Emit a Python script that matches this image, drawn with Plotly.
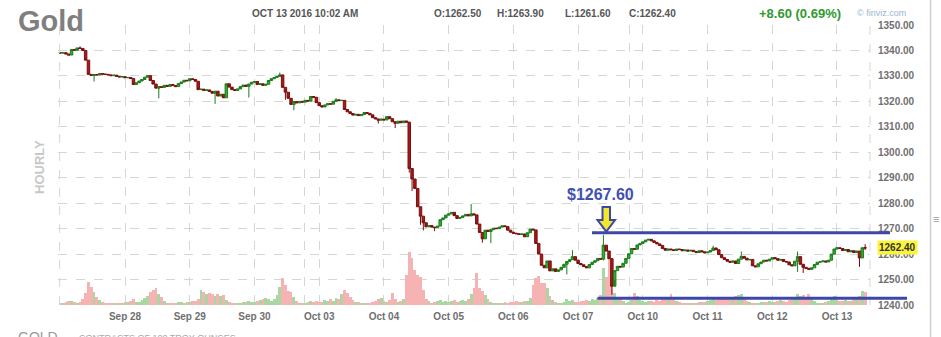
import plotly.graph_objects as go

# ---------------- data (hourly bars) ----------------
first_open = 1339.2

close_sep27 = [1339.0, 1339.1, 1338.6, 1338.2, 1340.4, 1340.1, 1341.0, 1340.8, 1340.0, 1336.2,
               1330.6, 1330.2, 1330.5, 1330.4, 1330.9, 1330.7, 1330.6]
close_sep28 = [1330.4, 1330.1, 1330.3, 1329.8, 1329.6, 1329.7, 1329.3, 1329.4, 1329.0, 1326.6,
               1327.3, 1328.0, 1328.6, 1329.5, 1330.1, 1328.2, 1326.8, 1325.2, 1325.8, 1325.5,
               1326.3, 1325.9, 1326.6]
close_sep29 = [1326.2, 1325.8, 1327.0, 1327.6, 1328.3, 1328.1, 1328.9, 1328.6, 1327.9, 1324.6,
               1324.8, 1324.3, 1324.5, 1323.9, 1323.2, 1324.0, 1322.1, 1322.8, 1321.4, 1326.9,
               1325.6, 1324.6, 1324.3]
close_sep30 = [1324.9, 1325.8, 1326.4, 1325.9, 1326.8, 1327.5, 1327.8, 1326.6, 1326.9, 1326.3,
               1326.7, 1328.2, 1328.9, 1329.4, 1329.8, 1330.4, 1325.5, 1323.6, 1321.2, 1318.8,
               1319.9, 1319.4, 1320.0]
close_oct03 = [1319.7, 1320.4, 1320.1, 1321.9, 1321.6, 1319.5, 1318.3, 1317.8, 1318.6, 1319.1,
               1318.9, 1320.0, 1320.6, 1320.3, 1320.4, 1316.8, 1315.9, 1315.2, 1314.6, 1314.9,
               1314.4, 1314.8, 1315.6]
close_oct04 = [1315.3, 1314.7, 1313.6, 1313.1, 1312.6, 1313.0, 1312.7, 1314.0, 1313.2, 1312.0,
               1311.4, 1312.2, 1311.6, 1312.3, 1311.8, 1293.6, 1289.5, 1285.8, 1278.6, 1274.9,
               1272.3, 1270.7, 1271.2]
close_oct05 = [1270.6, 1270.4, 1271.0, 1273.5, 1274.2, 1275.3, 1275.8, 1276.4, 1275.1, 1274.0,
               1274.4, 1275.0, 1275.6, 1275.0, 1275.8, 1275.4, 1271.8, 1268.5, 1266.0, 1269.4,
               1268.9, 1269.6, 1270.2]
close_oct06 = [1270.0, 1270.6, 1271.1, 1270.8, 1269.4, 1268.6, 1268.2, 1268.0, 1267.7, 1267.9,
               1266.8, 1268.4, 1269.8, 1269.5, 1264.2, 1260.0, 1255.6, 1254.6, 1257.3, 1253.4,
               1254.2, 1253.2, 1253.8]
close_oct07 = [1254.8, 1256.0, 1257.1, 1257.8, 1259.0, 1257.6, 1256.3, 1255.8, 1255.1, 1254.6,
               1255.9, 1256.8, 1257.4, 1258.3, 1258.0, 1263.5, 1261.2, 1258.2, 1247.4, 1253.5,
               1255.2, 1254.9, 1256.4]
close_oct10 = [1258.3, 1260.1, 1262.2, 1261.9, 1263.6, 1264.2, 1264.8, 1265.5, 1265.8, 1265.2,
               1264.6, 1264.0, 1263.4, 1262.2, 1261.5, 1262.0, 1261.7, 1261.4, 1262.0, 1261.8,
               1261.3, 1261.6, 1261.2]
close_oct11 = [1261.5, 1261.0, 1260.6, 1261.3, 1260.9, 1260.5, 1260.8, 1261.4, 1262.4, 1261.7,
               1259.8, 1258.6, 1257.9, 1257.2, 1256.8, 1257.3, 1256.3, 1258.0, 1259.1, 1258.4,
               1257.7, 1257.9, 1255.4]
close_oct12 = [1255.0, 1256.2, 1256.9, 1257.6, 1257.3, 1258.0, 1258.6, 1258.2, 1257.6, 1257.9,
               1257.1, 1256.9, 1255.8, 1255.4, 1257.2, 1259.0, 1256.0, 1254.8, 1254.4, 1254.0,
               1254.6, 1255.9, 1256.8]
close_oct13 = [1257.0, 1257.3, 1256.9, 1257.6, 1260.0, 1262.0, 1262.5, 1262.2, 1261.4, 1261.8,
               1260.9, 1261.3, 1260.6, 1261.2, 1258.5, 1262.5, 1262.4]

# visible wick extremes (bar index -> price)
wick_high = {7: 1341.6, 78: 1331.3, 98: 1321.3, 124: 1312.0, 146: 1279.7, 182: 1261.5,
             193: 1267.6, 196: 1258.5, 232: 1263.3, 242: 1261.0, 262: 1261.0, 286: 1263.9}
wick_low = {12: 1327.8, 35: 1321.2, 55: 1319.0, 67: 1321.5, 80: 1320.6, 83: 1316.5,
            113: 1311.3, 119: 1309.5, 124: 1292.0, 125: 1284.8, 128: 1271.5, 129: 1269.3,
            133: 1269.0, 150: 1264.5, 153: 1264.3, 180: 1252.0, 193: 1257.5, 196: 1244.0,
            197: 1250.0, 262: 1253.0, 264: 1252.6, 284: 1255.0, 286: 1261.6}

vol_sep27 = [700, 900, 1400, 1800, 1600, 1200, 1000, 1400, 2600, 5000, 9200, 7200, 5400, 3200,
             2200, 1400, 1000]
vol_sep28 = [600, 500, 700, 900, 1000, 800, 1200, 1100, 1600, 2400, 1400, 1200, 2000, 2800,
             3600, 5200, 6000, 6800, 4400, 3200, 1600, 1000, 700]
vol_sep29 = [600, 900, 1300, 1200, 1000, 1400, 1100, 1600, 1800, 2600, 6000, 5200, 4400, 4800,
             4400, 3600, 4400, 3600, 4000, 2000, 1400, 900, 600]
vol_sep30 = [700, 900, 1300, 1100, 1800, 1400, 1200, 1600, 2000, 2600, 3000, 2400, 1600, 2400,
             4200, 7200, 10800, 8000, 5600, 5200, 3400, 1600, 800]
vol_oct03 = [600, 900, 1200, 1600, 1200, 1800, 1400, 1200, 2000, 1600, 2400, 1800, 2800, 2400,
             4400, 6000, 4800, 3200, 2000, 1400, 1200, 1000, 800]
vol_oct04 = [600, 800, 1200, 1600, 2400, 2800, 1600, 1400, 2000, 4800, 2400, 1200, 1600, 2400,
             12000, 21200, 18800, 14000, 12000, 11200, 6000, 2400, 1600]
vol_oct05 = [800, 1200, 1600, 2000, 1400, 1800, 1200, 1600, 2000, 1400, 1800, 2000, 1600, 2400,
             4400, 6800, 12800, 6800, 5600, 4000, 2400, 1400, 1000]
vol_oct06 = [600, 800, 1000, 1200, 1000, 1400, 1200, 1600, 1200, 1400, 1800, 1600, 3000, 8000,
             10800, 11600, 8800, 8800, 6800, 3600, 2000, 1400, 1000]
vol_oct07 = [800, 1200, 2400, 1600, 2000, 1400, 1200, 1600, 1800, 2000, 1600, 2400, 2000, 2800,
             4000, 14800, 11200, 18800, 12000, 4800, 2800, 2400, 1600]
vol_oct10 = [800, 1200, 2000, 4800, 3600, 2000, 1600, 1400, 1800, 1600, 1200, 2000, 1600, 2400,
             2800, 3200, 4400, 2800, 1600, 1200, 1000, 800, 600]
vol_oct11 = [600, 800, 1000, 1200, 1400, 1200, 1600, 2000, 2400, 2000, 2400, 2800, 2400, 2800,
             3200, 2800, 3600, 4000, 4400, 2800, 1600, 1200, 800]
vol_oct12 = [600, 800, 1200, 1400, 1200, 1600, 1400, 1200, 1800, 2000, 1600, 1400, 2000, 2400,
             2800, 4400, 3600, 4000, 3200, 4400, 2400, 1600, 1000]
vol_oct13 = [600, 800, 1200, 1600, 2400, 3600, 2000, 1600, 1800, 2000, 1600, 1800, 2400, 2800,
             3600, 5600, 5200]

day_labels = ["Sep 28", "Sep 29", "Sep 30", "Oct 03", "Oct 04", "Oct 05", "Oct 06", "Oct 07",
              "Oct 10", "Oct 11", "Oct 12", "Oct 13"]
day_label_bar = [23, 46, 69, 92, 115, 138, 161, 184, 207, 230, 253, 276]
weekend_bar = [86.8, 202.3]

price_ticks = [1240, 1250, 1260, 1270, 1280, 1290, 1300, 1310, 1320, 1330, 1340, 1350]
last_price = 1262.40
resistance = 1268.4
support = 1242.7
high_label = "$1267.60"

# ---------------- assemble ----------------
closes = (close_sep27 + close_sep28 + close_sep29 + close_sep30 + close_oct03 + close_oct04 +
          close_oct05 + close_oct06 + close_oct07 + close_oct10 + close_oct11 + close_oct12 +
          close_oct13)
volumes = (vol_sep27 + vol_sep28 + vol_sep29 + vol_sep30 + vol_oct03 + vol_oct04 + vol_oct05 +
           vol_oct06 + vol_oct07 + vol_oct10 + vol_oct11 + vol_oct12 + vol_oct13)
opens = [first_open] + closes[:-1]
bars = list(range(len(closes)))
highs = [wick_high.get(i, max(o, c)) for i, o, c in zip(bars, opens, closes)]
lows = [wick_low.get(i, min(o, c)) for i, o, c in zip(bars, opens, closes)]
vol_colors = ["#a9d6a1" if c >= o else "#f6b3b3" for o, c in zip(opens, closes)]

W, H = 941, 337
L, R, T, B = 58, 71, 25, 32
PW, PH = W - L - R, H - T - B


def px(x):
    return (x - L) / PW


def py(y):
    return (H - B - y) / PH


FONT = "Arial, 'Liberation Sans', sans-serif"
BLUE = "#3d47a6"

fig = go.Figure()
fig.add_trace(go.Bar(x=bars, y=volumes, marker=dict(color=vol_colors, line=dict(width=0)),
                     width=1.0, yaxis="y", hoverinfo="skip"))
fig.add_trace(go.Candlestick(
    x=bars, open=opens, high=highs, low=lows, close=closes, yaxis="y2",
    increasing=dict(line=dict(color="#1c7d1c", width=1), fillcolor="#2fae2f"),
    decreasing=dict(line=dict(color="#7a0e0e", width=1), fillcolor="#a51a1a"),
    whiskerwidth=0, hoverinfo="skip"))

grid = "#d6d6d6"
fig.update_layout(
    width=W, height=H, margin=dict(l=L, r=R, t=T, b=B, pad=0),
    paper_bgcolor="white", plot_bgcolor="white", showlegend=False,
    font=dict(family=FONT),
    bargap=0, boxgap=0.12, boxgroupgap=0,
    xaxis=dict(range=[-0.82, 287.73], tickmode="array",
               tickvals=day_label_bar + weekend_bar,
               ticktext=day_labels + ["", ""],
               showgrid=True, gridcolor=grid, griddash="dash", gridwidth=1,
               zeroline=False, showline=False, ticks="outside", ticklen=2,
               tickcolor="rgba(0,0,0,0)",
               tickfont=dict(size=10, color="#6f6f6f", weight="bold"),
               rangeslider=dict(visible=False), fixedrange=True),
    yaxis=dict(range=[0, 112000], visible=False, fixedrange=True),
    yaxis2=dict(overlaying="y", side="right", range=[1240, 1350], tickmode="array",
                tickvals=price_ticks, ticktext=[f"{v:.2f}" for v in price_ticks],
                showgrid=True, gridcolor=grid, griddash="dash", gridwidth=1,
                zeroline=False, showline=False, ticks="", ticklabelstandoff=7,
                tickfont=dict(size=10, color="#6f6f6f", weight="bold"), fixedrange=True),
)

shapes = [
    dict(type="line", xref="paper", yref="paper", x0=0.002, x1=0.002, y0=0, y1=1,
         line=dict(color=grid, width=1, dash="dash")),
    dict(type="line", xref="paper", yref="paper", x0=1, x1=1, y0=0, y1=1,
         line=dict(color=grid, width=1, dash="dash")),
    dict(type="line", xref="paper", yref="y2", x0=px(592), x1=px(890), y0=resistance,
         y1=resistance, line=dict(color=BLUE, width=3)),
    dict(type="line", xref="paper", yref="y2", x0=px(597.5), x1=px(907), y0=support,
         y1=support, line=dict(color=BLUE, width=3)),
    dict(type="line", xref="paper", yref="paper", x0=px(930.5), x1=px(930.5), y0=py(0),
         y1=py(H), line=dict(color="#cfcfcf", width=1.5)),
]
arrow_pts = [(602.5, 207), (610, 207), (610, 220), (615, 220), (606.3, 231.5), (597.5, 220),
             (602.5, 220)]
path = "M " + " L ".join(f"{px(x):.5f},{py(y):.5f}" for x, y in arrow_pts) + " Z"
shapes.append(dict(type="path", xref="paper", yref="paper", path=path, fillcolor="#f3e829",
                   line=dict(color=BLUE, width=2)))
fig.update_layout(shapes=shapes)


def note(text, x, y, size, color, xanchor="left", yanchor="middle", **kw):
    fig.add_annotation(text=text, xref="paper", yref="paper", x=px(x), y=py(y),
                       xanchor=xanchor, yanchor=yanchor, showarrow=False,
                       font=dict(family=FONT, size=size, color=color), **kw)


note("<b>Gold</b>", 16, 21, 29, "#7f7f7f")
note("<b>OCT 13 2016 10:02 AM</b>", 250, 14, 10, "#555555")
note("<b>O:1262.50</b>", 432, 14, 10, "#555555")
note("<b>H:1263.90</b>", 495, 14, 10, "#555555")
note("<b>L:1261.60</b>", 563, 14, 10, "#555555")
note("<b>C:1262.40</b>", 627, 14, 10, "#555555")
note("<b>+8.60 (0.69%)</b>", 757, 14, 13, "#2e9a2e")
note("© finviz.com", 855, 13, 9, "#9bb5cf")
note("<b>HOURLY</b>", 39, 167, 13, "#c8c8c8", xanchor="center", textangle=-90)
note("GOLD", 16, 327, 14, "#999999", yanchor="top")
note("CONTRACTS OF 100 TROY OUNCES", 77, 331, 9, "#aaaaaa", yanchor="top")
note(f"<b>{high_label}</b>", 600, 194, 16, "#4050b0", xanchor="center")
note("≡", 936, 219, 11, "#999999", xanchor="center")

fig.add_annotation(text=f"<b>{last_price:.2f}</b>", xref="paper", yref="y2", x=1, y=last_price,
                   xanchor="left", yanchor="middle", xshift=7, showarrow=False,
                   bgcolor="#fbf53a", borderpad=1,
                   font=dict(family=FONT, size=10, color="#333333"))

fig.write_html("out.html")
